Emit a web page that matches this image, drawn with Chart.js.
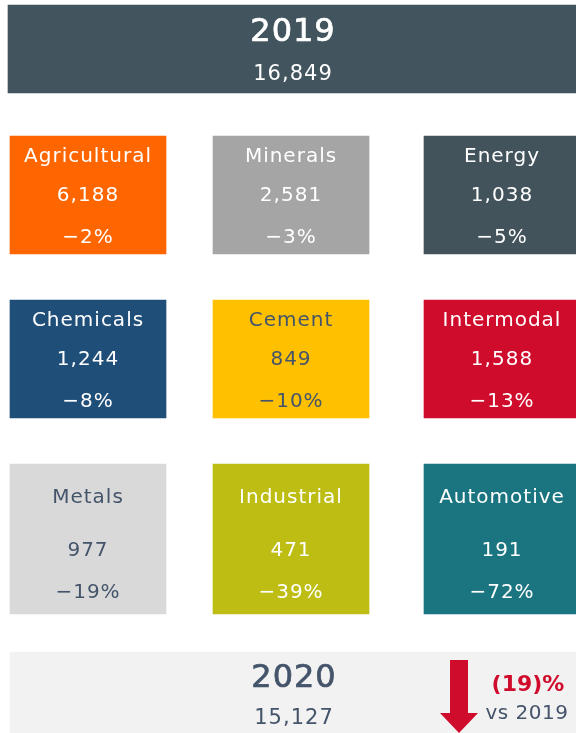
<!DOCTYPE html>
<html>
<head>
<meta charset="utf-8">
<script src="https://cdn.jsdelivr.net/npm/chart.js@4"></script>
<style>
  html, body { margin: 0; padding: 0; background: #ffffff; }
  canvas { display: block; }
</style>
</head>
<body>
<canvas id="tiles" width="576" height="733"></canvas>
<script>
// data
const categories = ['Agricultural', 'Minerals', 'Energy', 'Chemicals', 'Cement', 'Intermodal', 'Metals', 'Industrial', 'Automotive'];
const volumes2020 = [6188, 2581, 1038, 1244, 849, 1588, 977, 471, 191];
const changes = [-2, -3, -5, -8, -10, -13, -19, -39, -72];
const years = ['2019', '2020'];
const totals = [16849, 15127];
const totalChange = -19;

// layout (pixels)
const colSpans = [[10, 166], [213, 369], [424, 580]];
const rowTops = [136, 300, 464];
const rowHeights = [118, 118, 150];
const rowTextOffsets = [[21, 60, 102], [21, 60, 102], [34, 87, 129]];
const tileColors = ['#ff6600', '#a5a5a5', '#42535c', '#1f4e79', '#ffc000', '#d00c2c', '#d9d9d9', '#bdbd14', '#1b7580'];
const tileText = ['#ffffff', '#ffffff', '#ffffff', '#ffffff', '#44546a', '#ffffff', '#44546a', '#ffffff', '#ffffff'];
const DARK = '#44546a';
const RED = '#d00c2c';
const FONT = '"DejaVu Sans", sans-serif';

function fmt(n) {
  return n.toLocaleString('en-US');
}

const datasets = [];
// header band
datasets.push({
  label: 'header',
  data: [{ x: [8, 580], y: 49 }],
  backgroundColor: ['#42545e'],
  barThickness: 88,
  grouped: false,
  borderSkipped: false
});

// one dataset per row of tiles
for (let r = 0; r < 3; r++) {
  const rowData = [];
  const rowColors = [];
  for (let c = 0; c < 3; c++) {
    rowData.push({ x: colSpans[c], y: rowTops[r] + rowHeights[r] / 2 });
    rowColors.push(tileColors[r * 3 + c]);
  }
  datasets.push({
    label: 'row' + r,
    data: rowData,
    backgroundColor: rowColors,
    barThickness: rowHeights[r],
    grouped: false,
    borderSkipped: false
  });
}

// footer band
datasets.push({
  label: 'footer',
  data: [{ x: [10, 580], y: 693 }],
  backgroundColor: ['#f2f2f2'],
  barThickness: 82,
  grouped: false,
  borderSkipped: false
});

function mediumText(ctx, text, x, y) {
  ctx.fillText(text, x, y);
  ctx.lineWidth = 0.7;
  ctx.strokeStyle = ctx.fillStyle;
  ctx.strokeText(text, x, y);
}

const textPlugin = {
  id: 'tileText',
  afterDatasetsDraw(chart) {
    const ctx = chart.ctx;
    const xs = chart.scales.x;
    const ys = chart.scales.y;
    ctx.save();
    ctx.textAlign = 'center';
    ctx.textBaseline = 'middle';

    // header
    const head = chart.getDatasetMeta(0).data[0];
    const hx = xs.getPixelForValue(293);
    ctx.fillStyle = '#ffffff';
    ctx.letterSpacing = '1px';
    ctx.font = '32px ' + FONT;
    mediumText(ctx, years[0], hx, head.y - 16);
    ctx.font = '21px ' + FONT;
    ctx.fillText(fmt(totals[0]), hx, head.y + 26);

    // tiles
    for (let r = 0; r < 3; r++) {
      const meta = chart.getDatasetMeta(r + 1);
      meta.data.forEach(function(el, c) {
        const i = r * 3 + c;
        const cx = (el.x + el.base) / 2;
        const top = el.y - el.height / 2;
        const off = rowTextOffsets[r];
        ctx.fillStyle = tileText[i];
        ctx.font = '20px ' + FONT;
        ctx.fillText(categories[i], cx, top + off[0]);
        ctx.fillText(fmt(volumes2020[i]), cx, top + off[1]);
        ctx.fillText('\u2212' + Math.abs(changes[i]) + '%', cx, top + off[2]);
      });
    }

    // footer
    const fx = xs.getPixelForValue(294);
    ctx.fillStyle = DARK;
    ctx.font = '32px ' + FONT;
    mediumText(ctx, years[1], fx, ys.getPixelForValue(679));
    ctx.font = '21px ' + FONT;
    ctx.fillText(fmt(totals[1]), fx, ys.getPixelForValue(719));

    // down arrow
    const ax = xs.getPixelForValue(459);
    ctx.fillStyle = RED;
    ctx.beginPath();
    ctx.moveTo(ax - 9, ys.getPixelForValue(660));
    ctx.lineTo(ax + 9, ys.getPixelForValue(660));
    ctx.lineTo(ax + 9, ys.getPixelForValue(713));
    ctx.lineTo(ax + 19, ys.getPixelForValue(713));
    ctx.lineTo(ax, ys.getPixelForValue(733));
    ctx.lineTo(ax - 19, ys.getPixelForValue(713));
    ctx.lineTo(ax - 9, ys.getPixelForValue(713));
    ctx.closePath();
    ctx.fill();

    ctx.letterSpacing = '0px';
    ctx.fillStyle = RED;
    ctx.font = 'bold 22px ' + FONT;
    ctx.fillText('(' + Math.abs(totalChange) + ')%', xs.getPixelForValue(528), ys.getPixelForValue(685));
    ctx.fillStyle = DARK;
    ctx.letterSpacing = '0.5px';
    ctx.font = '20px ' + FONT;
    ctx.fillText('vs ' + years[0], xs.getPixelForValue(527), ys.getPixelForValue(714));
    ctx.restore();
  }
};

new Chart(document.getElementById('tiles').getContext('2d'), {
  type: 'bar',
  data: { datasets: datasets },
  options: {
    indexAxis: 'y',
    responsive: false,
    animation: false,
    events: [],
    layout: { padding: 0 },
    scales: {
      x: { type: 'linear', min: 0, max: 576, display: false },
      y: { type: 'linear', min: 0, max: 733, reverse: true, offset: false, display: false }
    },
    plugins: {
      legend: { display: false },
      tooltip: { enabled: false }
    }
  },
  plugins: [textPlugin]
});
</script>
</body>
</html>
